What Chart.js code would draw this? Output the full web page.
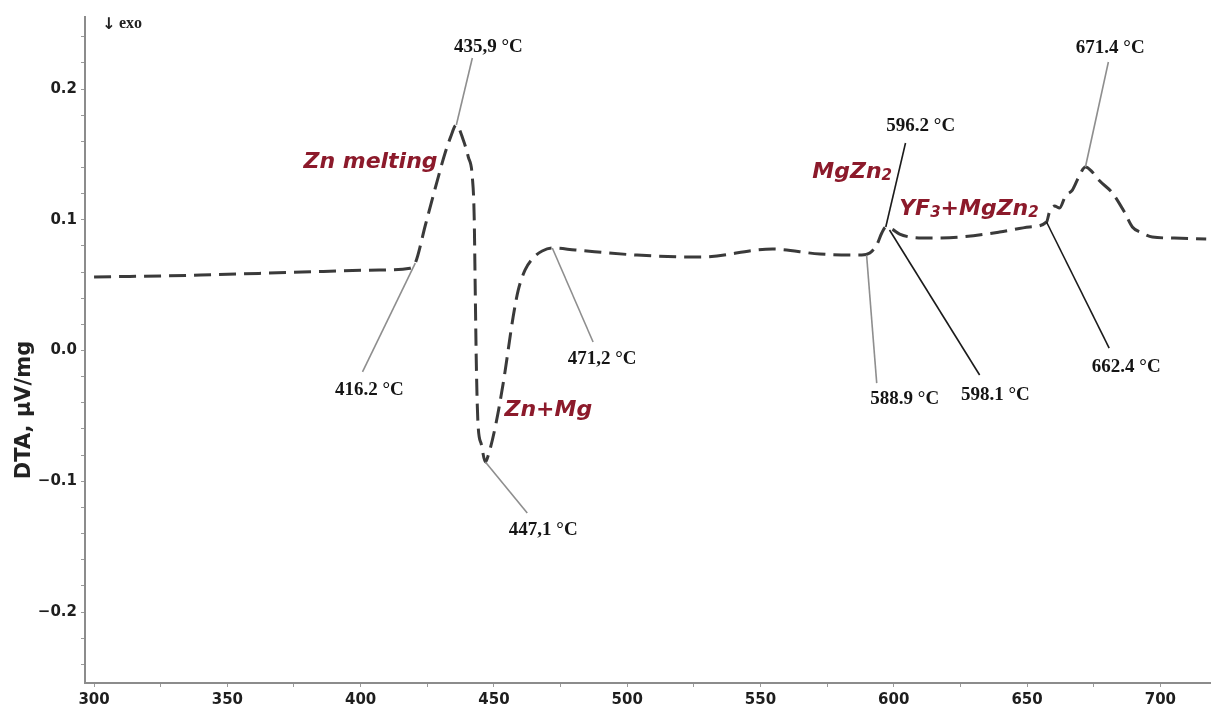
<!DOCTYPE html>
<html><head><meta charset="utf-8">
<script src="https://cdn.jsdelivr.net/npm/chart.js@4"></script>
<style>html,body{margin:0;padding:0;background:#fff}#wrap{width:1211px;height:709px;position:relative}</style>
</head><body><div id="wrap"><canvas id="c" width="1211" height="709"></canvas></div>
<script>
// ---- data ----
const temperature = [300, 340, 378, 407, 418.6, 420.5, 424.3, 428.0, 431.8, 433.7, 435.9, 438.5, 440.4, 441.9, 442.6, 443.0, 443.4, 444.0, 445.3, 446.8, 447.9, 450.5, 453.5, 457.2, 459.1, 461.7, 464.7, 468.1, 471.9, 480.5, 503.7, 527.3, 554.5, 572.3, 588.0, 591.0, 593.6, 595.5, 597.0, 599.2, 602.2, 606.0, 610.8, 624.7, 639.7, 650.9, 657.3, 658.4, 660.3, 662.2, 664.4, 667.0, 669.2, 671.9, 674.5, 677.1, 682.0, 686.5, 689.5, 693.2, 697.0, 705.2, 717.2];
const dta = [0.0562, 0.0577, 0.060, 0.0616, 0.063, 0.0669, 0.096, 0.1243, 0.1518, 0.163, 0.1725, 0.161, 0.148, 0.1327, 0.102, 0.045, -0.010, -0.055, -0.072, -0.0853, -0.080, -0.0585, -0.0249, 0.0256, 0.046, 0.0616, 0.0707, 0.0761, 0.0784, 0.0769, 0.073, 0.0715, 0.0776, 0.0738, 0.073, 0.0746, 0.0807, 0.0899, 0.0945, 0.093, 0.0891, 0.0868, 0.086, 0.0868, 0.0906, 0.0945, 0.0983, 0.1059, 0.1105, 0.109, 0.1182, 0.1227, 0.1319, 0.1404, 0.1365, 0.130, 0.1205, 0.106, 0.0945, 0.0899, 0.0868, 0.086, 0.0853];
const xTickLabels = [300, 350, 400, 450, 500, 550, 600, 650, 700];
const yTickLabels = [-0.2, -0.1, 0.0, 0.1, 0.2];
const yTitle = 'DTA, µV/mg';

// temperature annotations: text, point on curve, leader end, label centre (data units)
const tempTexts = ['435,9 °C', '416.2 °C', '471,2 °C', '447,1 °C', '596.2 °C', '671.4 °C', '588.9 °C', '598.1 °C', '662.4 °C'];
const tempAnchors = [[435.9, 0.1725], [420.5, 0.0669], [471.9, 0.0784], [446.8, -0.0853], [597.0, 0.0945], [671.9, 0.1404], [589.8, 0.073], [598.4, 0.0922], [657.3, 0.0983]];
const tempLeaderEnds = [[441.9, 0.2237], [400.7, -0.0164], [487.2, 0.0065], [462.5, -0.1243], [604.4, 0.1587], [680.5, 0.2207], [593.6, -0.0249], [632.2, -0.0187], [680.8, 0.0019]];
const tempLabelAt = [[447.9, 0.2321], [403.3, -0.0302], [490.6, -0.0065], [468.5, -0.1373], [610.1, 0.1717], [681.2, 0.2314], [604.1, -0.0371], [638.1, -0.034], [687.2, -0.0126]];
const tempLeaderDark = [false, false, false, false, true, false, false, true, true];

// phase labels ("_" marks a subscript character)
const phaseTexts = ['Zn melting', 'Zn+Mg', 'MgZn_2', 'YF_3+MgZn_2'];
const phaseAt = [[403.7, 0.1457], [470.4, -0.044], [584.4, 0.138], [628.2, 0.1098]];

// ---- chart ----
const points = temperature.map((t, i) => ({x: t, y: dta[i]}));
const near = (arr, v) => arr.some(a => Math.abs(a - v) < 1e-6);

function drawRich(ctx, txt, cx, cy, size) {
  const parts = [];
  for (let i = 0; i < txt.length; i++) {
    if (txt[i] === '_') { parts.push({t: txt[i + 1], sub: true}); i++; }
    else { if (parts.length && !parts[parts.length - 1].sub) parts[parts.length - 1].t += txt[i]; else parts.push({t: txt[i], sub: false}); }
  }
  const fMain = 'italic bold ' + size + 'px "DejaVu Sans"';
  const fSub = 'italic bold ' + Math.round(size * 0.68) + 'px "DejaVu Sans"';
  let w = 0;
  parts.forEach(p => { ctx.font = p.sub ? fSub : fMain; p.w = ctx.measureText(p.t).width; w += p.w; });
  let xx = cx - w / 2;
  ctx.textAlign = 'left'; ctx.textBaseline = 'alphabetic';
  const base = cy + size * 0.36;
  parts.forEach(p => { ctx.font = p.sub ? fSub : fMain; ctx.fillText(p.t, xx, base + (p.sub ? size * 0.08 : 0)); xx += p.w; });
}

const annot = {
  id: 'annot',
  afterDatasetsDraw(chart) {
    const {ctx, scales: {x, y}} = chart;
    ctx.save();
    tempTexts.forEach((txt, i) => {
      ctx.strokeStyle = tempLeaderDark[i] ? '#1b1b1b' : '#8e8e8e';
      ctx.lineWidth = 1.6;
      ctx.beginPath();
      ctx.moveTo(x.getPixelForValue(tempAnchors[i][0]), y.getPixelForValue(tempAnchors[i][1]));
      ctx.lineTo(x.getPixelForValue(tempLeaderEnds[i][0]), y.getPixelForValue(tempLeaderEnds[i][1]));
      ctx.stroke();
      ctx.font = 'bold 19px "Liberation Serif"';
      ctx.fillStyle = '#151515';
      ctx.textAlign = 'center'; ctx.textBaseline = 'middle';
      ctx.fillText(txt, x.getPixelForValue(tempLabelAt[i][0]), y.getPixelForValue(tempLabelAt[i][1]));
    });
    ctx.fillStyle = '#8c1a2b';
    phaseTexts.forEach((txt, i) => {
      drawRich(ctx, txt, x.getPixelForValue(phaseAt[i][0]), y.getPixelForValue(phaseAt[i][1]), 22);
    });
    // y title
    ctx.save();
    ctx.translate(30, 410);
    ctx.rotate(-Math.PI / 2);
    ctx.font = 'bold 21px "DejaVu Sans"';
    ctx.fillStyle = '#222';
    ctx.textAlign = 'center'; ctx.textBaseline = 'alphabetic';
    ctx.fillText(yTitle, 0, 0);
    ctx.restore();
    // exo marker
    ctx.fillStyle = '#222';
    ctx.textAlign = 'left'; ctx.textBaseline = 'alphabetic';
    ctx.font = 'bold 16px "DejaVu Sans"';
    ctx.fillText('↓', 102, 29);
    ctx.font = 'bold 16px "Liberation Serif"';
    ctx.fillText('exo', 119, 28);
    ctx.restore();
  }
};

new Chart(document.getElementById('c'), {
  type: 'line',
  data: {
    datasets: [{
      data: points,
      borderColor: '#3a3a3a',
      borderWidth: 3,
      borderDash: [17, 8],
      pointRadius: 0,
      fill: false,
      cubicInterpolationMode: 'monotone'
    }]
  },
  options: {
    responsive: false,
    animation: false,
    devicePixelRatio: 1,
    layout: {padding: {top: 17, right: 0, left: 0, bottom: 0}},
    plugins: {legend: {display: false}, tooltip: {enabled: false}, title: {display: false}},
    scales: {
      x: {
        type: 'linear', min: 296.6, max: 719,
        afterBuildTicks: s => { const t = []; for (let v = 300; v <= 700; v += 25) t.push({value: v}); s.ticks = t; },
        afterFit: s => { s.height = 26; },
        ticks: {
          autoSkip: false, maxRotation: 0, padding: 4,
          color: '#1e1e1e', font: {family: '"DejaVu Sans"', weight: 'bold', size: 15},
          callback: v => near(xTickLabels, v) ? String(v) : ''
        },
        grid: {display: true, drawOnChartArea: false, drawTicks: true, tickLength: 4, color: '#9a9a9a', lineWidth: 1},
        border: {display: true, color: '#8c8c8c', width: 2}
      },
      y: {
        type: 'linear', min: -0.2543, max: 0.2551,
        afterBuildTicks: s => { const t = []; for (let k = -12; k <= 12; k++) t.push({value: Math.round(k * 2) / 100}); s.ticks = t; },
        afterFit: s => { s.width = 85; },
        ticks: {
          autoSkip: false, padding: 4,
          color: '#1e1e1e', font: {family: '"DejaVu Sans"', weight: 'bold', size: 15},
          callback: v => near(yTickLabels, v) ? (v < 0 ? '−' + Math.abs(v).toFixed(1) : v.toFixed(1)) : ''
        },
        grid: {display: true, drawOnChartArea: false, drawTicks: true, tickLength: 4, color: '#9a9a9a', lineWidth: 1},
        border: {display: true, color: '#8c8c8c', width: 2}
      }
    }
  },
  plugins: [annot]
});
</script>
</body></html>
